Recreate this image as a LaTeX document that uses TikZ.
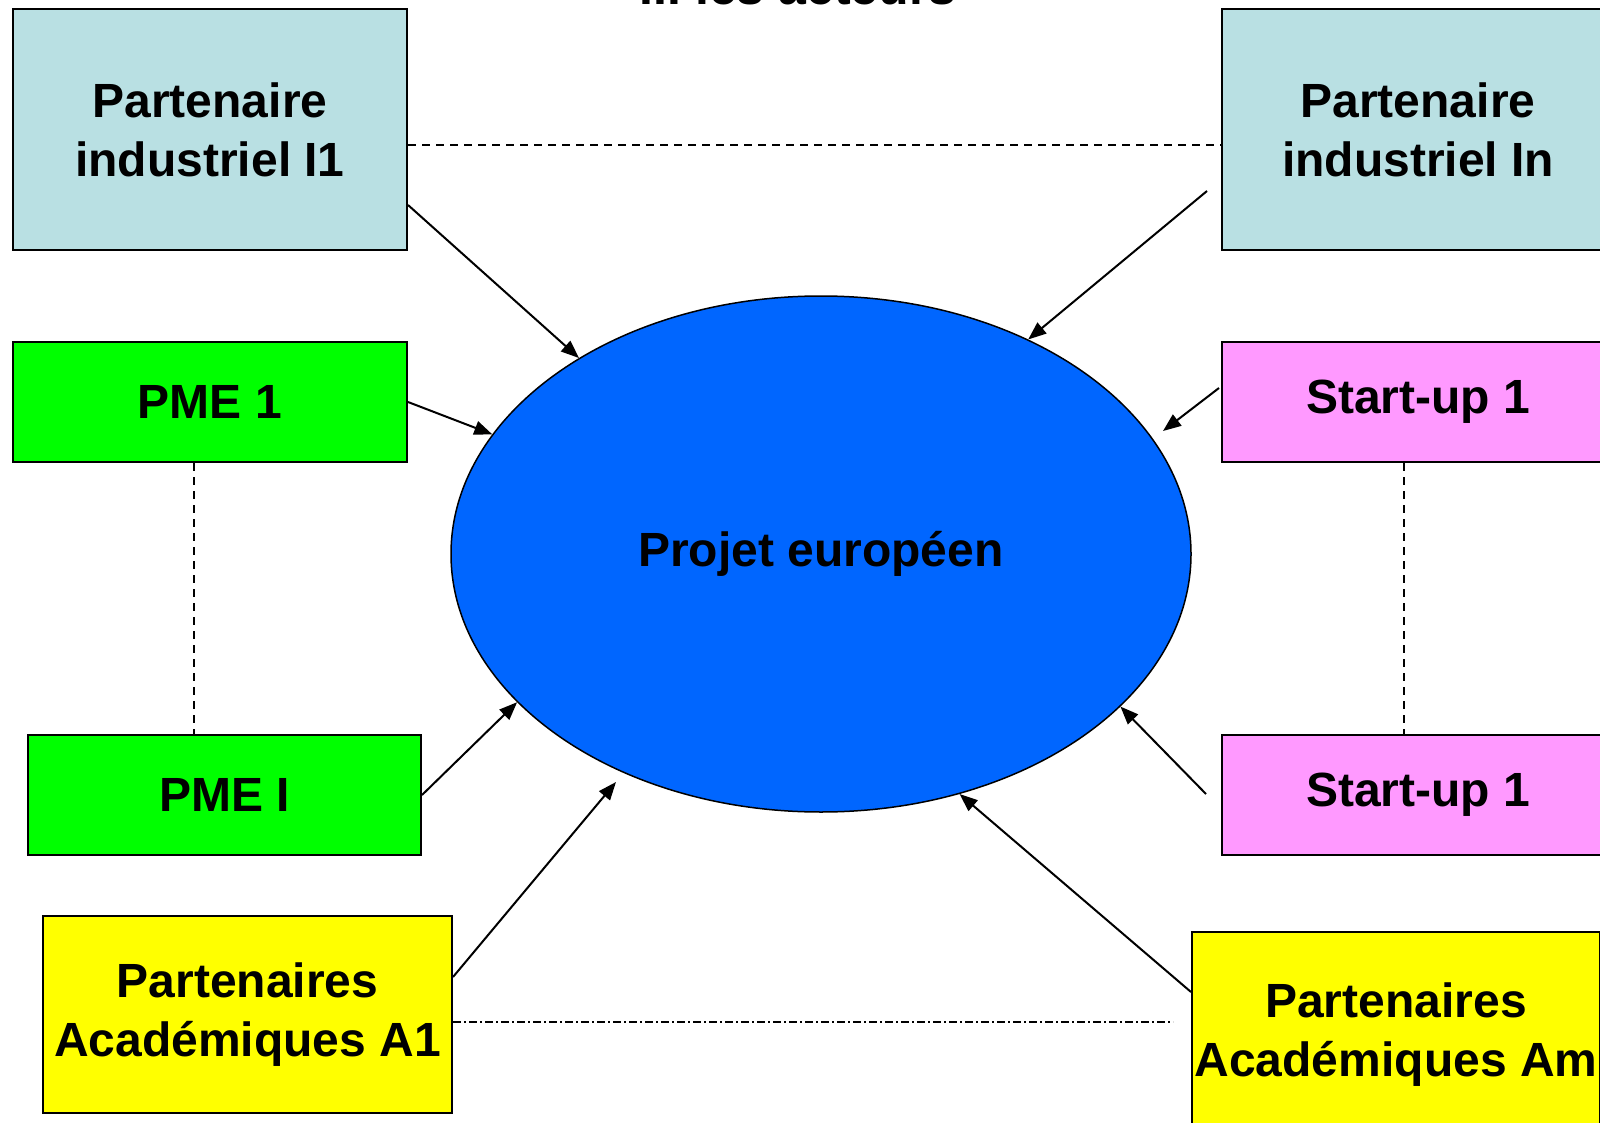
\documentclass[tikz,border=0pt]{standalone}
\usepackage{fontspec}
\setmainfont{Liberation Sans}
\usetikzlibrary{arrows.meta,shapes.geometric,calc}
\definecolor{indblue}{HTML}{B9E0E3}
\definecolor{pmegreen}{HTML}{00FF00}
\definecolor{supink}{HTML}{FF99FF}
\definecolor{acyellow}{HTML}{FFFF00}
\definecolor{projblue}{HTML}{0066FF}
\tikzset{
  box/.style={draw=black, line width=2pt, rectangle, inner sep=0pt, align=center,
    font=\fontsize{48}{59}\selectfont\bfseries},
  arr/.style={line width=2pt, -{Triangle[length=18pt,width=14pt]}},
  dashline/.style={line width=1.4pt, dash pattern=on 8pt off 6pt},
  dotdashline/.style={line width=1.4pt, dash pattern=on 8pt off 3pt on 2pt off 3pt},
}
\begin{document}
\begin{tikzpicture}[x=1pt,y=-1pt]
\useasboundingbox (0,0) rectangle (1600,1123);
% title (cut off by the top edge, as in the reference)
\node[anchor=base, font=\fontsize{50}{60}\selectfont\bfseries, inner sep=0pt] (title) at (798,5) {II. les acteurs};
% project ellipse
\node[ellipse, draw=black, line width=1.5pt, fill=projblue, minimum width=740pt, minimum height=516pt, inner sep=0pt,
  font=\fontsize{48}{59}\selectfont\bfseries] (E) at (821,554) {Projet européen};
% boxes
\node[box, fill=indblue, minimum width=394pt, minimum height=241pt] (I1) at (210,129.5) {Partenaire\\industriel I1};
\node[box, fill=indblue, minimum width=392pt, minimum height=241pt] (In) at (1418,129.5) {Partenaire\\industriel In};
\node[box, fill=pmegreen, minimum width=394pt, minimum height=120pt] (PME1) at (210,402) {PME 1};
\node[box, fill=pmegreen, minimum width=393pt, minimum height=120pt] (PMEI) at (224.5,795) {PME I};
\node[box, fill=supink, minimum width=392pt, minimum height=120pt] (SU1) at (1418,402) {Start-up 1};
\node[box, fill=supink, minimum width=392pt, minimum height=120pt] (SU2) at (1418,795) {Start-up 1};
\node[box, fill=acyellow, minimum width=409pt, minimum height=197pt] (A1) at (247.5,1014.5) {Partenaires\\Académiques A1};
\node[box, fill=acyellow, minimum width=408pt, minimum height=206pt] (Am) at (1396,1035) {Partenaires\\Académiques Am};
% dashed links
\draw[dashline] ($(I1.east)+(0,15.5)$) -- ($(In.west)+(0,15.5)$);
\draw[dashline] ($(PME1.south)+(-16,0)$) coordinate (lv) -- (lv |- PMEI.north);
\draw[dashline] ($(SU1.south)+(-14,0)$) coordinate (rv) -- (rv |- SU2.north);
\coordinate (ddend) at (1173,1022);
\draw[dotdashline] ($(A1.east)+(0,7.5)$) -- (ddend);
% arrows
\coordinate (su1tip) at (1163,431);
\coordinate (a1tip) at (616,782);
\draw[arr] ($(I1.east)+(0,75.5)$) -- (E.141.4);
\draw[arr] (PME1.east) -- (E.160.3);
\draw[arr] ($(In.west)+(-14,61.5)$) -- (E.46);
\draw[arr] ($(SU1.west)+(-2,-14)$) -- (su1tip);
\draw[arr] (PMEI.east) -- (E.206);
\draw[arr] ($(A1.east)+(0,-37.5)$) -- (a1tip);
\draw[arr] ($(SU2.west)+(-15,-1)$) -- (E.333);
\draw[arr] ($(Am.west)+(0,-43)$) -- (E.300.7);
\end{tikzpicture}
\end{document}
